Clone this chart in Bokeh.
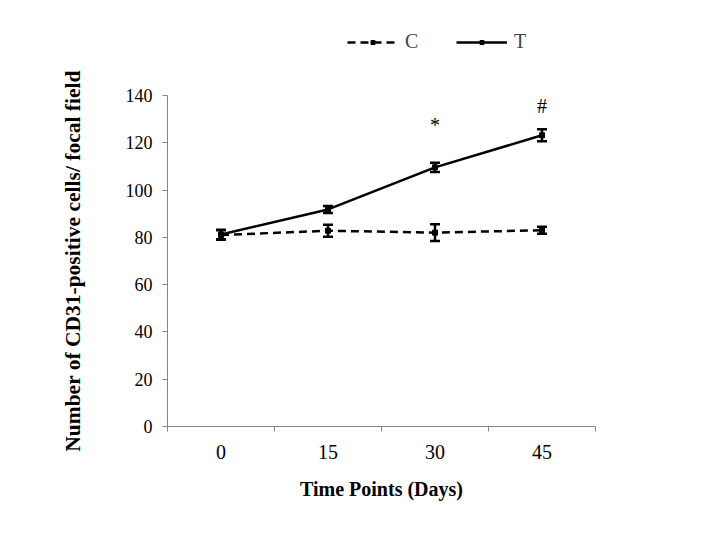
from bokeh.plotting import figure
from bokeh.layouts import column
from bokeh.models import (ColumnDataSource, Whisker, FixedTicker, Legend, LegendItem,
                          Range1d, Label)
from bokeh.embed import file_html
from bokeh.resources import INLINE

categories = ["0", "15", "30", "45"]
c_mean = [81.0, 82.8, 82.0, 83.0]
c_err = [2.0, 2.5, 3.5, 1.5]
t_mean = [81.2, 91.8, 109.6, 123.2]
t_err = [2.0, 1.5, 2.0, 2.5]
marks = ["", "", "*", "#"]
mark_y = [None, None, 127.5, 135.5]
y_ticks = [0, 20, 40, 60, 80, 100, 120, 140]
series_names = ["C", "T"]

xs = [i + 0.5 for i in range(len(categories))]
FONT = "Liberation Serif"
AXIS_GRAY = "#868686"
C_STYLE = dict(line_color="black", line_width=2.5, line_dash="8 5")
T_STYLE = dict(line_color="black", line_width=2.5)
MARK_STYLE = dict(marker="square", size=5, color="black")

src = ColumnDataSource(dict(
    x=xs, c=c_mean,
    c_lo=[m - e for m, e in zip(c_mean, c_err)], c_hi=[m + e for m, e in zip(c_mean, c_err)],
    t=t_mean,
    t_lo=[m - e for m, e in zip(t_mean, t_err)], t_hi=[m + e for m, e in zip(t_mean, t_err)],
))

# ---------- legend strip on top (series drawn out of view, only the legend shows) ----------
leg_fig = figure(width=695, height=60, min_border=0, output_backend="svg",
                 toolbar_location=None, x_range=Range1d(0, 1), y_range=Range1d(-2, -1))
leg_fig.axis.visible = False
leg_fig.grid.visible = False
leg_fig.outline_line_color = None
lc = leg_fig.line("x", "c", source=src, **C_STYLE)
mc = leg_fig.scatter("x", "c", source=src, marker="square", size=4, color="black")
lt = leg_fig.line("x", "t", source=src, **T_STYLE)
mt = leg_fig.scatter("x", "t", source=src, marker="square", size=4, color="black")
legend = Legend(items=[LegendItem(label=series_names[0], renderers=[lc, mc]),
                       LegendItem(label=series_names[1], renderers=[lt, mt])],
                orientation="horizontal", location=(180, 7),
                glyph_width=51, glyph_height=10, label_text_font=FONT,
                label_text_font_size="20px", label_standoff=7, spacing=31,
                border_line_color=None, background_fill_alpha=0,
                padding=0, margin=0)
leg_fig.add_layout(legend, "center")

# ---------- main chart ----------
p = figure(frame_width=428, frame_height=331, min_border_left=167, min_border_right=100,
           min_border_top=35, min_border_bottom=91,
           output_backend="svg", toolbar_location=None,
           x_range=Range1d(0, len(categories)), y_range=Range1d(0, 140))
p.outline_line_color = None
p.xgrid.grid_line_color = None
p.ygrid.grid_line_color = None

# x axis: labels at category centres, ticks at category boundaries
p.xaxis.ticker = FixedTicker(ticks=xs, minor_ticks=list(range(len(categories) + 1)))
p.xaxis.major_label_overrides = {x: c for x, c in zip(xs, categories)}
p.xaxis.major_tick_out = 0
p.xaxis.major_tick_in = 0
p.xaxis.minor_tick_out = 5
p.xaxis.minor_tick_in = 0
p.xaxis.minor_tick_line_color = AXIS_GRAY
p.xaxis.axis_line_color = AXIS_GRAY
p.xaxis.major_label_text_font = FONT
p.xaxis.major_label_text_font_size = "20px"
p.xaxis.major_label_text_color = "black"
p.xaxis.major_label_standoff = 13
p.xaxis.axis_label = "Time Points (Days)"
p.xaxis.axis_label_text_font = FONT
p.xaxis.axis_label_text_font_size = "20px"
p.xaxis.axis_label_text_font_style = "bold"
p.xaxis.axis_label_text_color = "black"
p.xaxis.axis_label_standoff = 16

p.yaxis.ticker = FixedTicker(ticks=y_ticks, minor_ticks=[])
p.yaxis.major_tick_out = 5
p.yaxis.major_tick_in = 0
p.yaxis.major_tick_line_color = AXIS_GRAY
p.yaxis.axis_line_color = AXIS_GRAY
p.yaxis.major_label_text_font = FONT
p.yaxis.major_label_text_font_size = "18px"
p.yaxis.major_label_text_color = "black"
p.yaxis.major_label_standoff = 10
p.yaxis.axis_label = "Number of CD31-positive cells/ focal field"
p.yaxis.axis_label_text_font = FONT
p.yaxis.axis_label_text_font_size = "21.5px"
p.yaxis.axis_label_text_font_style = "bold"
p.yaxis.axis_label_text_color = "black"
p.yaxis.axis_label_standoff = 38

p.line("x", "c", source=src, **C_STYLE)
p.scatter("x", "c", source=src, **MARK_STYLE)
p.line("x", "t", source=src, **T_STYLE)
p.scatter("x", "t", source=src, **MARK_STYLE)

for lo, hi in (("c_lo", "c_hi"), ("t_lo", "t_hi")):
    w = Whisker(source=src, base="x", lower=lo, upper=hi, line_color="black", line_width=2.5)
    for head in (w.upper_head, w.lower_head):
        head.size = 10
        head.line_width = 2.5
        head.line_color = "black"
    p.add_layout(w)

for x, m, y in zip(xs, marks, mark_y):
    if m:
        p.add_layout(Label(x=x, y=y, text=m, text_align="center", text_baseline="middle",
                           text_font=FONT, text_font_size="20px", text_color="black"))

layout = column(leg_fig, p, spacing=0)
open("out.html", "w").write(file_html(layout, INLINE))
